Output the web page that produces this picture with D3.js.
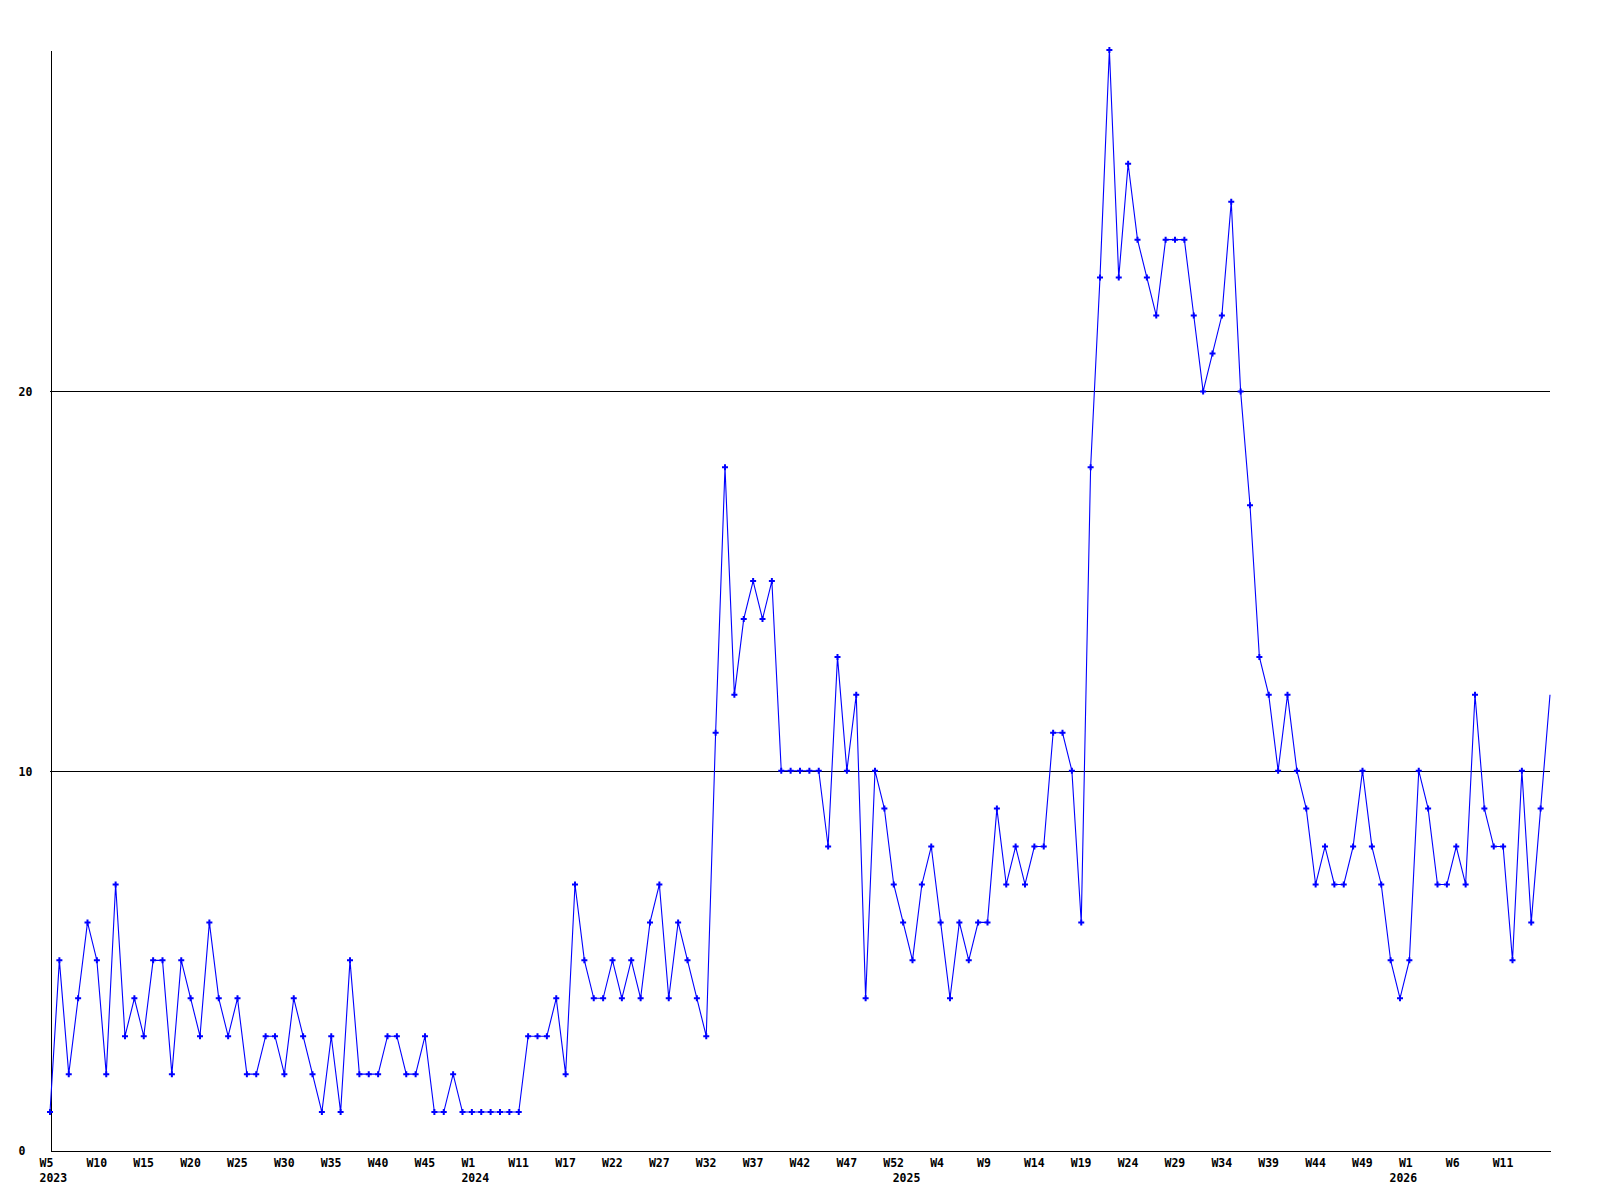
<!DOCTYPE html>
<html>
<head>
<meta charset="utf-8">
<script src="https://cdn.jsdelivr.net/npm/d3@7"></script>
<style>
  html, body { margin: 0; padding: 0; background: #fff; }
  svg { display: block; }
  text { font-family: "DejaVu Sans Mono", "Liberation Mono", monospace; font-weight: bold; font-size: 11.5px; fill: #000; }
</style>
</head>
<body>
<svg id="chart" width="1600" height="1200"></svg>
<script>
// ---- data ----
const values = [
  1,5,2,4,6,5,2,7,3,4,3,5,5,2,5,4,3,6,4,3,4,2,2,3,3,2,4,3,2,1,3,1,5,2,2,2,3,3,2,2,3,1,
  1,2,1,1,1,1,1,1,1,3,3,3,4,2,7,5,4,4,5,4,5,4,6,7,4,6,5,4,3,
  11,18,12,14,15,14,15,10,10,10,10,10,8,13,10,12,4,10,9,7,
  6,5,7,8,6,4,6,5,6,6,9,7,8,7,8,8,11,11,10,6,
  18,23,29,23,26,24,23,22,24,24,24,22,20,21,22,25,20,17,13,
  12,10,12,10,9,7,8,7,7,8,10,8,7,5,4,5,10,9,7,7,8,7,12,9,8,8,5,10,6,9,12
];
const weekLabels = ["W5","W10","W15","W20","W25","W30","W35","W40","W45","W1","W11","W17",
  "W22","W27","W32","W37","W42","W47","W52","W4","W9","W14","W19","W24","W29","W34",
  "W39","W44","W49","W1","W6","W11"];
const weekLabelIdx = d3.range(0, 160, 5);
const yearLabels = ["2023","2024","2025","2026"];
const yearLabelIdx = [0, 45, 91, 144];
const yTicks = [0, 10, 20];
const gridValues = [10, 20];

// ---- chart ----
const svg = d3.select("#chart");
svg.append("rect").attr("width",1600).attr("height",1200).attr("fill","#fff");

const x = d3.scaleLinear().domain([0, values.length - 1]).range([50, 1550]);
const y = d3.scaleLinear().domain([0, 29]).range([1150, 50]);

// gridlines
svg.append("g").selectAll("line").data(gridValues).join("line")
  .attr("x1", 50).attr("x2", 1550)
  .attr("y1", d => Math.round(y(d)) + 0.5).attr("y2", d => Math.round(y(d)) + 0.5)
  .attr("stroke", "#000").attr("stroke-width", 1).attr("shape-rendering", "crispEdges");

// x axis (week labels)
const xAxis = svg.append("g").attr("transform", "translate(0.5,1150.5)")
  .call(d3.axisBottom(x).tickValues(weekLabelIdx).tickFormat((d, i) => weekLabels[i])
    .tickSize(0).tickSizeOuter(0));
xAxis.select(".domain").attr("stroke", "#000").attr("shape-rendering", "crispEdges");
xAxis.selectAll("text").attr("text-anchor", "start").attr("x", -11.5).attr("y", 16).attr("dy", "0")
  .attr("fill", "#000");
xAxis.attr("font-family", null).attr("font-size", null);

// year labels
const yearAxis = svg.append("g").attr("transform", "translate(0.5,1150.5)")
  .call(d3.axisBottom(x).tickValues(yearLabelIdx).tickFormat((d, i) => yearLabels[i])
    .tickSize(0).tickSizeOuter(0));
yearAxis.select(".domain").remove();
yearAxis.selectAll("text").attr("text-anchor", "start").attr("x", -11.5).attr("y", 31).attr("dy", "0")
  .attr("fill", "#000");
yearAxis.attr("font-family", null).attr("font-size", null);

// y axis
const yAxis = svg.append("g").attr("transform", "translate(50.5,0.5)")
  .call(d3.axisLeft(y).tickValues(yTicks).tickFormat(d3.format("d")).tickSize(0).tickSizeOuter(0));
yAxis.select(".domain").attr("stroke", "#000").attr("shape-rendering", "crispEdges");
yAxis.selectAll("text").attr("text-anchor", "start").attr("x", -32).attr("dy", "0.35em")
  .attr("fill", "#000");
yAxis.attr("font-family", null).attr("font-size", null);

// line
const line = d3.line().x((d, i) => x(i)).y(d => y(d));
svg.append("path").datum(values)
  .attr("d", line)
  .attr("fill", "none").attr("stroke", "#0000ff").attr("stroke-width", 1.1);

// markers (last point has no marker)
svg.append("g").selectAll("path").data(values.slice(0, values.length - 1)).join("path")
  .attr("transform", (d, i) => `translate(${x(i)},${y(d)})`)
  .attr("d", d3.symbol().type(d3.symbolCross).size(20))
  .attr("fill", "#0000ff");
</script>
</body>
</html>
